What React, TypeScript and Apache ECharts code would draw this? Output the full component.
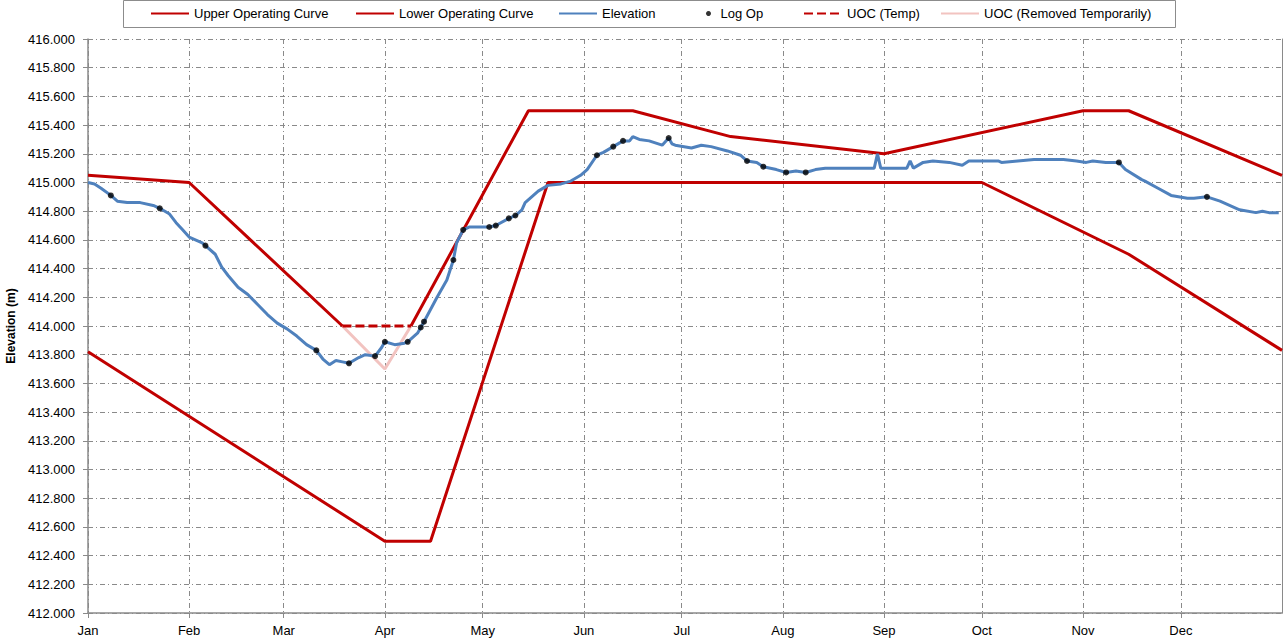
import React, { useEffect, useRef } from "react";
import * as echarts from "echarts";

const FONT = "Liberation Sans, Arial, sans-serif";
const MONTHS = ["Jan", "Feb", "Mar", "Apr", "May", "Jun", "Jul", "Aug", "Sep", "Oct", "Nov", "Dec"];

const Y_MIN = 412;
const Y_MAX = 416;
const Y_STEP = 0.2;

const upperCurve: [string, number | string][] = [
  ["2024-01-01", 415.05],
  ["2024-02-01", 415.0],
  ["2024-03-19", 414.0],
  ["2024-03-28", "-"],
  ["2024-04-09", 414.0],
  ["2024-05-15", 415.5],
  ["2024-06-16", 415.5],
  ["2024-07-16", 415.32],
  ["2024-09-01", 415.2],
  ["2024-11-01", 415.5],
  ["2024-11-15", 415.5],
  ["2025-01-01", 415.05],
];

const lowerCurve: [string, number][] = [
  ["2024-01-01", 413.82],
  ["2024-04-01", 412.5],
  ["2024-04-15", 412.5],
  ["2024-05-21", 415.0],
  ["2024-10-01", 415.0],
  ["2024-11-15", 414.5],
  ["2025-01-01", 413.83],
];

const uocTemp: [string, number][] = [
  ["2024-03-19", 414.0],
  ["2024-04-09", 414.0],
];

const uocRemoved: [string, number][] = [
  ["2024-03-19", 414.0],
  ["2024-04-01", 413.7],
  ["2024-04-09", 414.0],
];

const elevation: [string, number][] = [
  ["2024-01-01", 415.0], ["2024-01-03", 414.99], ["2024-01-05", 414.96], ["2024-01-08", 414.91],
  ["2024-01-10", 414.87], ["2024-01-13", 414.86], ["2024-01-17", 414.86], ["2024-01-21", 414.84],
  ["2024-01-23", 414.82], ["2024-01-26", 414.78], ["2024-01-28", 414.72], ["2024-01-30", 414.67],
  ["2024-02-01", 414.62], ["2024-02-05", 414.58], ["2024-02-06", 414.56], ["2024-02-09", 414.5],
  ["2024-02-11", 414.41], ["2024-02-13", 414.35], ["2024-02-16", 414.27], ["2024-02-19", 414.22],
  ["2024-02-22", 414.15], ["2024-02-25", 414.08], ["2024-02-28", 414.02], ["2024-03-02", 413.98],
  ["2024-03-05", 413.93], ["2024-03-08", 413.87], ["2024-03-11", 413.83], ["2024-03-13", 413.77],
  ["2024-03-15", 413.73], ["2024-03-17", 413.76], ["2024-03-19", 413.75], ["2024-03-21", 413.74],
  ["2024-03-24", 413.78], ["2024-03-26", 413.8], ["2024-03-29", 413.79], ["2024-03-31", 413.85],
  ["2024-04-01", 413.89], ["2024-04-04", 413.87], ["2024-04-07", 413.88], ["2024-04-08", 413.89],
  ["2024-04-11", 413.95], ["2024-04-12", 413.99], ["2024-04-13", 414.03], ["2024-04-17", 414.2],
  ["2024-04-20", 414.32], ["2024-04-22", 414.46], ["2024-04-23", 414.58], ["2024-04-25", 414.67],
  ["2024-04-27", 414.69], ["2024-05-03", 414.69], ["2024-05-05", 414.7], ["2024-05-09", 414.75],
  ["2024-05-11", 414.77], ["2024-05-13", 414.81], ["2024-05-14", 414.86], ["2024-05-18", 414.94],
  ["2024-05-21", 414.98], ["2024-05-25", 414.99], ["2024-05-28", 415.01], ["2024-05-31", 415.05],
  ["2024-06-02", 415.09], ["2024-06-05", 415.19], ["2024-06-07", 415.21], ["2024-06-10", 415.25],
  ["2024-06-13", 415.29], ["2024-06-15", 415.29], ["2024-06-16", 415.32], ["2024-06-18", 415.3],
  ["2024-06-21", 415.29], ["2024-06-25", 415.26], ["2024-06-27", 415.31], ["2024-06-28", 415.27],
  ["2024-06-29", 415.26], ["2024-07-04", 415.24], ["2024-07-07", 415.26], ["2024-07-10", 415.25],
  ["2024-07-15", 415.22], ["2024-07-19", 415.19], ["2024-07-21", 415.15], ["2024-07-24", 415.14],
  ["2024-07-26", 415.11], ["2024-07-30", 415.09], ["2024-08-02", 415.07], ["2024-08-05", 415.08],
  ["2024-08-08", 415.07], ["2024-08-11", 415.09], ["2024-08-14", 415.1], ["2024-08-29", 415.1],
  ["2024-08-30", 415.2], ["2024-08-31", 415.1], ["2024-09-08", 415.1], ["2024-09-09", 415.15],
  ["2024-09-10", 415.1], ["2024-09-13", 415.14], ["2024-09-16", 415.15], ["2024-09-21", 415.14],
  ["2024-09-25", 415.12], ["2024-09-27", 415.15], ["2024-10-02", 415.15], ["2024-10-06", 415.15],
  ["2024-10-07", 415.14], ["2024-10-12", 415.15], ["2024-10-17", 415.16], ["2024-10-21", 415.16],
  ["2024-10-26", 415.16], ["2024-10-30", 415.15], ["2024-11-02", 415.14], ["2024-11-04", 415.15],
  ["2024-11-08", 415.14], ["2024-11-12", 415.14], ["2024-11-14", 415.09], ["2024-11-19", 415.02],
  ["2024-11-20", 415.01], ["2024-11-24", 414.96], ["2024-11-28", 414.91], ["2024-12-03", 414.89],
  ["2024-12-05", 414.89], ["2024-12-09", 414.9], ["2024-12-13", 414.87], ["2024-12-19", 414.81],
  ["2024-12-24", 414.79], ["2024-12-26", 414.8], ["2024-12-28", 414.79], ["2024-12-31", 414.79],
];

const logOp: [string, number][] = [
  ["2024-01-08", 414.91], ["2024-01-23", 414.82], ["2024-02-06", 414.56], ["2024-03-11", 413.83],
  ["2024-03-21", 413.74], ["2024-03-29", 413.79], ["2024-04-01", 413.89], ["2024-04-08", 413.89],
  ["2024-04-12", 413.99], ["2024-04-13", 414.03], ["2024-04-22", 414.46], ["2024-04-25", 414.67],
  ["2024-05-03", 414.69], ["2024-05-05", 414.7], ["2024-05-09", 414.75], ["2024-05-11", 414.77],
  ["2024-06-05", 415.19], ["2024-06-10", 415.25], ["2024-06-13", 415.29], ["2024-06-27", 415.31],
  ["2024-07-21", 415.15], ["2024-07-26", 415.11], ["2024-08-02", 415.07], ["2024-08-08", 415.07],
  ["2024-11-12", 415.14], ["2024-12-09", 414.9],
];

const RED = "#C00000";
const BLUE = "#4F81BD";
const PINK = "#F2C3C0";
const GRID = "#8a8a8a";
const DASHDOT = [5, 3, 1, 3];
const NO_SYMBOL = { opacity: 0 };

// legend entries: [series name, left position of the entry]
const legendEntries: [string, number][] = [
  ["Upper Operating Curve", 150],
  ["Lower Operating Curve", 355],
  ["Elevation", 558],
  ["Log Op", 706],
  ["UOC (Temp)", 803],
  ["UOC (Removed Temporarily)", 940],
];

export default function App() {
  const ref = useRef<HTMLDivElement>(null);

  useEffect(() => {
    document.body.style.margin = "0";
    if (!ref.current) return;
    const chart = echarts.init(ref.current, undefined, { renderer: "svg" });
    const xMin = new Date(2024, 0, 1).getTime();
    const xMax = new Date(2025, 0, 1).getTime();

    const legends = legendEntries.map(([name, left]) => {
      const isDot = name === "Log Op";
      return {
        left,
        top: 7,
        padding: 0,
        itemWidth: isDot ? 14 : 38,
        itemHeight: 5,
        textStyle: { fontFamily: FONT, fontSize: 13, color: "#000" },
        data: [isDot ? { name, icon: "circle" } : { name, itemStyle: NO_SYMBOL }],
      };
    });

    chart.setOption({
      animation: false,
      backgroundColor: "#ffffff",
      grid: { left: 88, right: 5, top: 39, bottom: 29, containLabel: false, outerBoundsMode: "none" },
      graphic: [
        {
          type: "rect",
          shape: { x: 123.5, y: 0.5, width: 1052, height: 27 },
          style: { fill: "none", stroke: "#8c8c8c", lineWidth: 1 },
          silent: true,
        },
      ],
      legend: legends,
      xAxis: {
        type: "time",
        min: xMin,
        max: xMax,
        minInterval: 28 * 86400000,
        maxInterval: 31 * 86400000,
        axisLine: { show: true, lineStyle: { color: GRID, width: 1.5 } },
        axisTick: { show: true, length: 5, lineStyle: { color: GRID } },
        axisLabel: {
          showMaxLabel: false,
          margin: 11,
          fontFamily: FONT,
          fontSize: 13,
          color: "#000",
          formatter: (v: number) => MONTHS[new Date(v).getMonth()],
        },
        splitLine: { show: true, lineStyle: { color: GRID, width: 1, type: DASHDOT } },
      },
      yAxis: [
        {
          type: "value",
          min: Y_MIN,
          max: Y_MAX,
          interval: Y_STEP,
          name: "Elevation (m)",
          nameLocation: "middle",
          nameGap: 63,
          nameTextStyle: { fontFamily: FONT, fontSize: 12, fontWeight: "bold", color: "#000" },
          axisLine: { show: true, lineStyle: { color: GRID, width: 1.5 } },
          axisTick: { show: true, length: 5, lineStyle: { color: GRID } },
          axisLabel: {
            margin: 13,
            fontFamily: FONT,
            fontSize: 13,
            color: "#000",
            formatter: (v: number) => v.toFixed(3),
          },
          splitLine: { show: true, lineStyle: { color: GRID, width: 1, type: DASHDOT } },
        },
        {
          type: "value",
          min: Y_MIN,
          max: Y_MAX,
          interval: Y_STEP,
          position: "right",
          axisLine: { show: true, lineStyle: { color: GRID, width: 1 } },
          axisTick: { show: false },
          axisLabel: { show: false },
          splitLine: { show: false },
        },
      ],
      series: [
        {
          name: "UOC (Removed Temporarily)",
          type: "line",
          data: uocRemoved,
          symbol: "none",
          lineStyle: { color: PINK, width: 3 },
          itemStyle: { color: PINK },
          z: 2,
        },
        {
          name: "UOC (Temp)",
          type: "line",
          data: uocTemp,
          symbol: "none",
          lineStyle: { color: RED, width: 3, type: [9, 4] },
          itemStyle: { color: RED },
          z: 3,
        },
        {
          name: "Lower Operating Curve",
          type: "line",
          data: lowerCurve,
          symbol: "none",
          lineStyle: { color: RED, width: 3 },
          itemStyle: { color: RED },
          z: 3,
        },
        {
          name: "Upper Operating Curve",
          type: "line",
          data: upperCurve,
          symbol: "none",
          connectNulls: false,
          lineStyle: { color: RED, width: 3 },
          itemStyle: { color: RED },
          z: 3,
        },
        {
          name: "Elevation",
          type: "line",
          data: elevation,
          symbol: "none",
          lineStyle: { color: BLUE, width: 3 },
          itemStyle: { color: BLUE },
          z: 4,
        },
        {
          name: "Log Op",
          type: "scatter",
          data: logOp,
          symbol: "circle",
          symbolSize: 6,
          itemStyle: { color: "#000" },
          z: 5,
        },
      ],
    });

    return () => chart.dispose();
  }, []);

  return <div ref={ref} style={{ width: 1287, height: 642 }} />;
}
